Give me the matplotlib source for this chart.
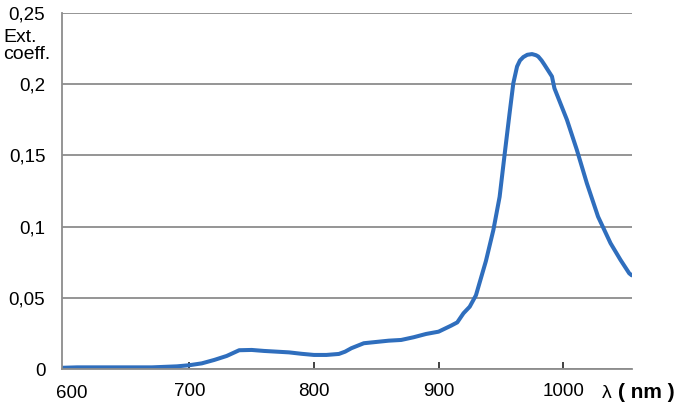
import numpy as np
import matplotlib.pyplot as plt

plt.rcParams['font.family'] = ['Liberation Sans', 'DejaVu Sans']

# absorption spectrum
wavelength = [598, 610, 630, 650, 670, 690, 700, 710, 720, 730, 740, 750,
              760, 770, 780, 790, 800, 810, 820, 825, 830, 840, 850, 860,
              870, 880, 890, 900, 910, 915, 920, 925, 930, 932, 938, 944,
              949, 953, 957, 960, 963, 965.3, 968, 971.2, 975, 978.2, 980,
              982.7, 985, 991, 993, 1003, 1011, 1019, 1028, 1038, 1046,
              1053, 1055]
ext_coeff = [0.0012, 0.0015, 0.0015, 0.0015, 0.0015, 0.0022, 0.003, 0.0043,
             0.0067, 0.0095, 0.0135, 0.0137, 0.013, 0.0125, 0.012, 0.011,
             0.0102, 0.0102, 0.0109, 0.0125, 0.0149, 0.0184, 0.0193, 0.0202,
             0.0207, 0.0226, 0.0249, 0.0265, 0.0307, 0.033, 0.0394, 0.044,
             0.052, 0.058, 0.076, 0.0978, 0.121, 0.1506, 0.1796, 0.2006,
             0.2123, 0.2165, 0.2189, 0.2205, 0.221, 0.2202, 0.2193, 0.2165,
             0.2135, 0.2053, 0.197, 0.175, 0.1538, 0.1305, 0.1071, 0.0885,
             0.0768, 0.0674, 0.066]

x_ticks = [700, 800, 900, 1000]
x_labels = ['700', '800', '900', '1000']
y_ticks = [0, 0.05, 0.1, 0.15, 0.2, 0.25]
y_labels = ['0', '0,05', '0,1', '0,15', '0,2', '0,25']

fig = plt.figure(figsize=(6.85, 4.04), dpi=100)
ax = fig.add_axes([0.0905, 0.0854, 0.8317, 0.8832])

ax.plot(wavelength, ext_coeff, color='#2f6ebd', lw=2.9,
        solid_capstyle='round', solid_joinstyle='round')

ax.set_xlim(597.8, 1055)
ax.set_ylim(0, 0.25)
ax.set_yticks(y_ticks)
ax.set_yticklabels(y_labels, fontsize=13.5)
ax.set_xticks(x_ticks)
ax.set_xticklabels(x_labels, fontsize=13.5)
ax.tick_params(axis='y', length=0, pad=12)
ax.tick_params(axis='x', direction='in', length=5, width=1.2, color='#222222', pad=10)
ax.grid(axis='y', color='#8c8c8c', lw=1.3)
ax.set_axisbelow(True)
for s in ['top', 'right']:
    ax.spines[s].set_visible(False)
ax.spines['left'].set_color('#8c8c8c')
ax.spines['bottom'].set_color('#8c8c8c')
ax.spines['left'].set_linewidth(1.3)
ax.spines['bottom'].set_linewidth(1.3)

# extra x label for 600 and axis titles
fig.text(72 / 685, 1 - 393.5 / 404, '600', fontsize=13.5, ha='center', va='center')
fig.text(3 / 685, 1 - 46 / 404, 'Ext.\ncoeff.', fontsize=14, ha='left', va='center',
         linespacing=1.0)
fig.text(602 / 685, 1 - 393 / 404, 'λ', fontsize=14, ha='left', va='center')
fig.text(618 / 685, 1 - 393 / 404, '( nm )', fontsize=15, ha='left', va='center',
         fontweight='bold')

plt.savefig('out.png')
